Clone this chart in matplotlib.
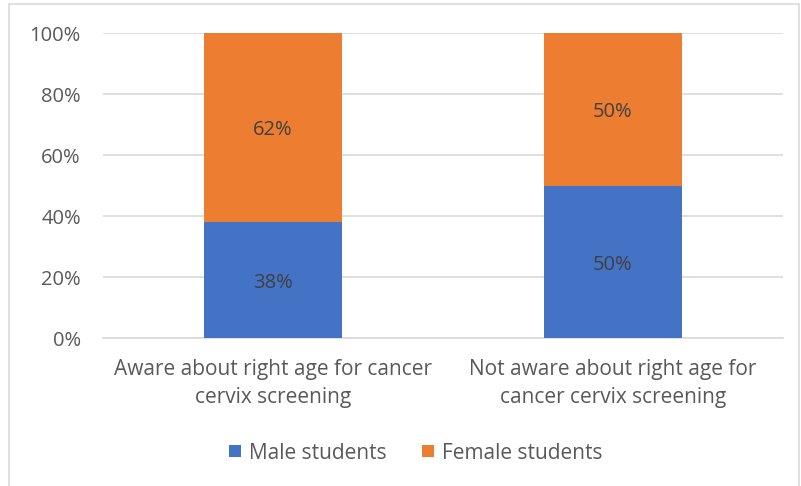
import matplotlib
matplotlib.use("Agg")
import matplotlib.pyplot as plt
from matplotlib.patches import Rectangle

categories = ["Aware about right age for cancer\ncervix screening",
              "Not aware about right age for\ncancer cervix screening"]
male = [38, 50]
female = [62, 50]
series_names = ["Male students", "Female students"]
yticks = [0, 20, 40, 60, 80, 100]
ytick_labels = ["0%", "20%", "40%", "60%", "80%", "100%"]

plt.rcParams['font.family'] = ['Open Sans', 'DejaVu Sans']

fig = plt.figure(figsize=(8.01, 4.86), dpi=100)
fig.patches.append(Rectangle((9/801, -0.01), (799-9)/801, 1 - 4/486 + 0.01,
                             transform=fig.transFigure, fill=False,
                             edgecolor="#D9D9D9", linewidth=1.2))
ax = fig.add_axes([103/801, 1-338/486, 680/801, 305/486])

x = list(range(len(categories)))
w = 0.403
b1 = ax.bar(x, male, width=w, color="#4472C4", label=series_names[0], zorder=3)
b2 = ax.bar(x, female, width=w, bottom=male, color="#ED7D31", label=series_names[1], zorder=3)

for i in x:
    ax.annotate(f"{male[i]}%", (i, male[i]/2), xytext=(0, -2), textcoords="offset points",
                ha="center", va="center", fontsize=14.5, color="#404040", zorder=4)
    ax.annotate(f"{female[i]}%", (i, male[i] + female[i]/2), xytext=(0, -2),
                textcoords="offset points", ha="center", va="center",
                fontsize=14.5, color="#404040", zorder=4)

ax.set_xlim(-0.5, 1.5)
ax.set_ylim(0, 100)
ax.set_yticks(yticks)
ax.set_yticklabels(ytick_labels)
ax.set_xticks(x)
ax.set_xticklabels(categories, linespacing=1.45)
ax.tick_params(axis="y", length=0, pad=16, labelsize=14.5, labelcolor="#595959")
ax.tick_params(axis="x", length=0, pad=15, labelsize=15, labelcolor="#595959")
ax.grid(axis="y", color="#D9D9D9", linewidth=1.2, zorder=0)
for s in ["top", "right", "left"]:
    ax.spines[s].set_visible(False)
ax.spines["bottom"].set_color("#D9D9D9")
ax.spines["bottom"].set_linewidth(1.2)

leg = fig.legend(handles=[b1, b2], labels=series_names, loc="center",
                 bbox_to_anchor=(416/801, 1-453/486), ncol=2, frameon=False,
                 fontsize=15, handlelength=0.55, handleheight=0.55,
                 handletextpad=0.4, columnspacing=1.7)
for t in leg.get_texts():
    t.set_color("#595959")

fig.savefig("out.png", dpi=100)
